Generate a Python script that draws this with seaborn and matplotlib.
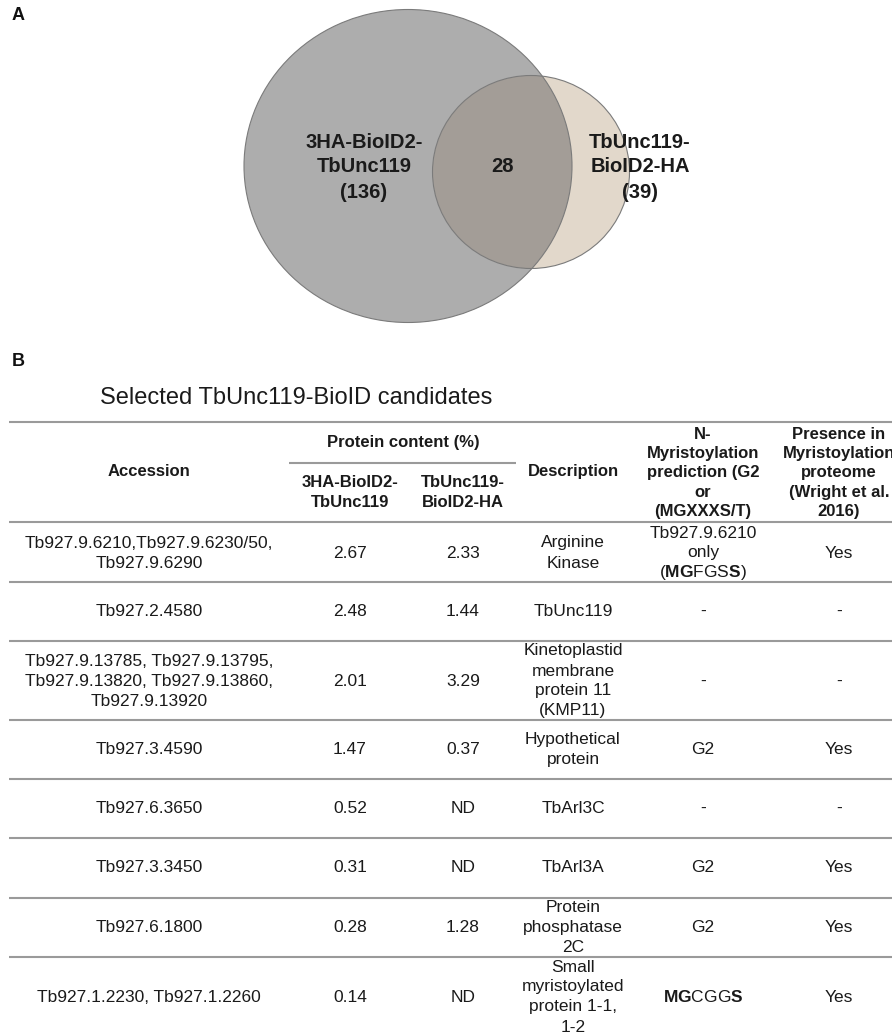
import matplotlib
matplotlib.use("Agg")
import matplotlib.pyplot as plt
from matplotlib.patches import Ellipse
import seaborn as sns

# ---- Venn counts ----
venn_sets = ["3HA-BioID2-\nTbUnc119", "TbUnc119-\nBioID2-HA"]
venn_only_counts = [136, 39]
venn_shared = 28

# ---- Table content ----
table_title = "Selected TbUnc119-BioID candidates"
col_headers = ["Accession", "3HA-BioID2-\nTbUnc119", "TbUnc119-\nBioID2-HA", "Description",
               "N-\nMyristoylation\nprediction (G2\nor\n(MGXXXS/T)",
               "Presence in\nMyristoylation\nproteome\n(Wright et al.\n2016)"]
group_header = "Protein content (%)"

accessions = [
    "Tb927.9.6210,Tb927.9.6230/50,\nTb927.9.6290",
    "Tb927.2.4580",
    "Tb927.9.13785, Tb927.9.13795,\nTb927.9.13820, Tb927.9.13860,\nTb927.9.13920",
    "Tb927.3.4590",
    "Tb927.6.3650",
    "Tb927.3.3450",
    "Tb927.6.1800",
    "Tb927.1.2230, Tb927.1.2260",
]
content_3ha = [2.67, 2.48, 2.01, 1.47, 0.52, 0.31, 0.28, 0.14]
content_unc = [2.33, 1.44, 3.29, 0.37, None, None, 1.28, None]
descriptions = [
    "Arginine\nKinase",
    "TbUnc119",
    "Kinetoplastid\nmembrane\nprotein 11\n(KMP11)",
    "Hypothetical\nprotein",
    "TbArl3C",
    "TbArl3A",
    "Protein\nphosphatase\n2C",
    "Small\nmyristoylated\nprotein 1-1,\n1-2",
]
myr_prediction = [
    "Tb927.9.6210\nonly\n($\\mathbf{MG}$FGS$\\mathbf{S}$)",
    "-", "-", "G2", "-", "G2", "G2",
    "$\\mathbf{MG}$CGG$\\mathbf{S}$",
]
myr_proteome = ["Yes", "-", "-", "Yes", "-", "Yes", "Yes", "Yes"]

# ---- Styling ----
sns.set_theme(style="white")
plt.rcParams["font.family"] = ["Liberation Sans", "DejaVu Sans"]
plt.rcParams["mathtext.fontset"] = "custom"
plt.rcParams["mathtext.rm"] = "Liberation Sans"
plt.rcParams["mathtext.bf"] = "Liberation Sans:bold"

W, H = 892, 1034
fig = plt.figure(figsize=(W / 100, H / 100), dpi=100)
ax = fig.add_axes([0, 0, 1, 1])
ax.set_xlim(0, W)
ax.set_ylim(H, 0)
ax.axis("off")


def cell(x, y, text, spacing=20, size=12.5, weight="normal"):
    lines = text.split("\n")
    n = len(lines)
    for i, ln in enumerate(lines):
        ax.text(x, y + (i - (n - 1) / 2) * spacing, ln, ha="center", va="center",
                fontsize=size, fontweight=weight, color="#1a1a1a")


# ---- Panel A: Venn diagram ----
big_fill, small_fill, overlap_fill, edge = "#adadad", "#e2d8cb", "#a39d97", "#7b7b7b"
big = Ellipse((408, 166), 328, 313, facecolor=big_fill, edgecolor="none", zorder=1)
small = Ellipse((531, 172), 197, 193, facecolor=small_fill, edgecolor="none", zorder=1)
ax.add_patch(big)
ax.add_patch(small)
overlap = Ellipse((531, 172), 197, 193, facecolor=overlap_fill, edgecolor="none", zorder=2)
ax.add_patch(overlap)
overlap.set_clip_path(big)
for e in (Ellipse((408, 166), 328, 313), Ellipse((531, 172), 197, 193)):
    e.set_facecolor("none")
    e.set_edgecolor(edge)
    e.set_linewidth(0.8)
    e.set_zorder(3)
    ax.add_patch(e)

label_xs = [364, 640]
for name, cnt, lx in zip(venn_sets, venn_only_counts, label_xs):
    cell(lx, 167, f"{name}\n({cnt})", spacing=25, size=14.5, weight="bold")
cell(503, 167, str(venn_shared), size=14.5, weight="bold")

ax.text(18, 16, "A", ha="center", va="center", fontsize=13, fontweight="bold", color="#111")
ax.text(18, 361.5, "B", ha="center", va="center", fontsize=13, fontweight="bold", color="#111")

# ---- Panel B: table ----
ax.text(100, 398, table_title, ha="left", va="center", fontsize=17, color="#1a1a1a")

col_x = [149, 350, 463, 573, 703, 839]
row_edges = [521.7, 581.7, 640.7, 720.3, 779.3, 838.3, 897.7, 957.3]
row_centers = [553, 611.2, 681, 749.5, 808.8, 868, 927.5, 997]
line_kw = dict(color="#9a9a9a", linewidth=1.5)

ax.hlines([421.7] + row_edges, 9, W, **line_kw)
ax.hlines(463, 289, 516, **line_kw)

cell(col_x[0], 471.7, col_headers[0], weight="bold", size=12)
cell(403, 443, group_header, weight="bold", size=12)
cell(col_x[1], 492.7, col_headers[1], weight="bold", size=12)
cell(col_x[2], 492.7, col_headers[2], weight="bold", size=12)
cell(col_x[3], 471.7, col_headers[3], weight="bold", size=12)
cell(col_x[4], 473, col_headers[4], spacing=19.2, weight="bold", size=12)
cell(col_x[5], 473, col_headers[5], spacing=19.2, weight="bold", size=12)

for i, yc in enumerate(row_centers):
    v2 = content_unc[i]
    row = [accessions[i], f"{content_3ha[i]:.2f}", "ND" if v2 is None else f"{v2:.2f}",
           descriptions[i], myr_prediction[i], myr_proteome[i]]
    for x, txt in zip(col_x, row):
        cell(x, yc, txt)

fig.savefig("out.png", dpi=100)
